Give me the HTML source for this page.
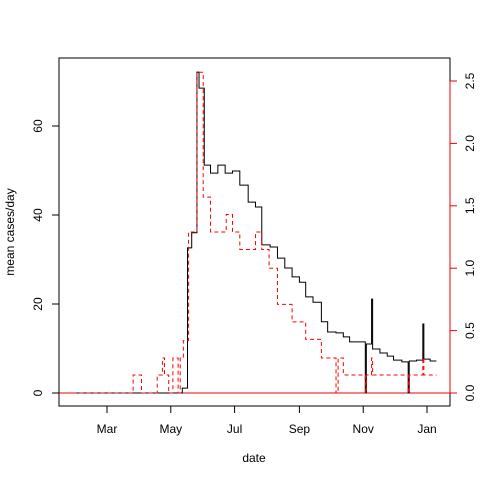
<!DOCTYPE html>
<html><head><meta charset="utf-8"><style>
body{margin:0;background:#fff}
text{font-family:"Liberation Sans",sans-serif;font-size:12px;fill:#000}
</style></head><body>
<svg id="chart" width="480" height="480" xmlns="http://www.w3.org/2000/svg">
<rect width="480" height="480" fill="#fff"/>
<g id="plot"></g>
</svg>
<script>
// days since Mar 1
const blackDays=[-33,72,77,81,86,88,93,99,106,113,120,127,135,142,148,156,163,170,177,184,190,197,205,211,219,226,232,247,248,253,254,261,268,274,282,288,289,296,302,303,309,315];
const blackVals=[0,1.1,32.6,36,72.1,68.5,51.2,49.4,51.2,49.4,49.9,46.7,42.9,41.8,33.3,32.8,30.3,28.1,26.1,24.9,21.6,20.4,16,13.7,13.5,12.6,11.5,0,11,21.1,9.9,9.0,8.3,7.4,7.0,0,7.2,7.4,15.5,7.6,7.2,7.2];
const redDays=[-33,25,33,48,53,55,59,63,68,70,73,78,86,92,99,114,120,127,142,148,155,163,177,190,205,219,221,226,247,248,253,254,288,289,302,303,315];
const redVals=[0,0.144,0,0.144,0.28,0.144,0,0.28,0,0.28,0.42,1.29,2.57,1.57,1.29,1.43,1.29,1.15,1.29,1.15,1.0,0.71,0.57,0.43,0.28,0,0.28,0.144,0,0.144,0.28,0.144,0,0.144,0.28,0.144,0.144];
const monthLabels=["Mar","May","Jul","Sep","Nov","Jan"];
const monthDays=[0,61,122,184,245,306];
const leftTicks=[0,20,40,60];
const rightTicks=[0.0,0.5,1.0,1.5,2.0,2.5];

const X0=107,XS=320/306;
const x=d=>X0+d*XS;
const yL=v=>393-v*4.45;
const yR=v=>393-v*124.8;
const NS="http://www.w3.org/2000/svg";
const g=document.getElementById('plot');
function mk(t,a){const e=document.createElementNS(NS,t);for(const k in a)e.setAttribute(k,a[k]);g.appendChild(e);return e;}

function stepPath(ds,vs,yf){let p="M"+x(ds[0])+","+yf(vs[0]);for(let i=1;i<ds.length;i++){p+="H"+x(ds[i])+"V"+yf(vs[i]);}return p;}

let b=mk('rect',{x:59,y:58,width:391,height:348,fill:'none',stroke:'#000'});



let zl=mk('line',{x1:52,x2:457,y1:393,y2:393,stroke:'#e00',"stroke-width":1});



let bl=mk('path',{d:stepPath(blackDays,blackVals,yL),fill:'none',stroke:'#000','stroke-width':1});



let rl=mk('path',{d:stepPath(redDays,redVals,yR),fill:'none',stroke:'#f00','stroke-width':1,'stroke-dasharray':'4,3'});



monthDays.forEach((d,i)=>{
 let t=mk('line',{x1:x(d),x2:x(d),y1:406,y2:413,stroke:'#000'});
 
 
 let l=mk('text',{x:x(d),y:433,'text-anchor':'middle'});l.textContent=monthLabels[i];
 
 
});
let la=mk('line',{x1:59,x2:59,y1:yL(0),y2:yL(60),stroke:'#000'});


leftTicks.forEach(v=>{
 let t=mk('line',{x1:52,x2:59,y1:yL(v),y2:yL(v),stroke:'#000'});
 
 
 let l=mk('text',{x:42,y:yL(v),'text-anchor':'middle',transform:`rotate(-90 42 ${yL(v)})`});l.textContent=v;
 
 
});
let ra=mk('line',{x1:450,x2:450,y1:yR(0),y2:yR(2.5),stroke:'#e00'});


rightTicks.forEach(v=>{
 let t=mk('line',{x1:450,x2:457,y1:yR(v),y2:yR(v),stroke:'#e00'});
 
 
 let l=mk('text',{x:474,y:yR(v),'text-anchor':'middle',transform:`rotate(-90 474 ${yR(v)})`});l.textContent=v.toFixed(1);
 
 
});
let xt=mk('text',{x:254,y:462,'text-anchor':'middle'});xt.textContent='date';


let yt=mk('text',{x:14,y:232,'text-anchor':'middle',transform:'rotate(-90 14 232)'});yt.textContent='mean cases/day';


</script>
</body></html>
